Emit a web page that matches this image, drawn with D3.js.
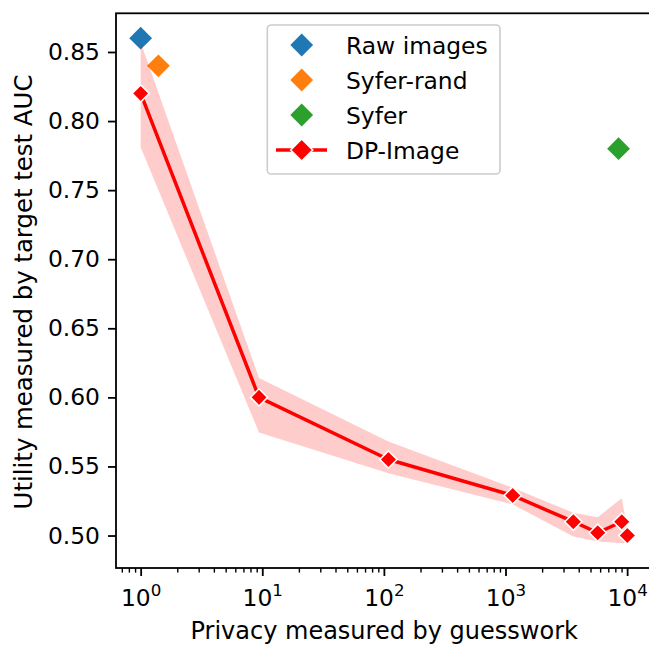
<!DOCTYPE html>
<html>
<head>
<meta charset="utf-8">
<script src="https://cdn.jsdelivr.net/npm/d3@7"></script>
<style>
  html, body { margin: 0; padding: 0; background: #ffffff; }
  svg { display: block; font-family: "DejaVu Sans", sans-serif; }
</style>
</head>
<body>
<svg id="chart" width="649" height="645"></svg>
<script>
// Single-point methods
const rawX = [1.0];
const rawY = [0.86];
const syferRandX = [1.4];
const syferRandY = [0.84];
const syferX = [8500];
const syferY = [0.78];

// DP-Image sweep: mean and confidence band
const dpX = [1, 9.4, 109, 1146, 3610, 5730, 9030, 10040];
const dpY = [0.82, 0.60, 0.555, 0.529, 0.510, 0.502, 0.510, 0.500];
const dpLow = [0.781, 0.5745, 0.545, 0.5225, 0.4993, 0.4957, 0.4945, 0.495];
const dpHigh = [0.857, 0.614, 0.568, 0.5345, 0.5165, 0.5133, 0.527, 0.505];

const yTicks = [0.50, 0.55, 0.60, 0.65, 0.70, 0.75, 0.80, 0.85];
const xTicks = [1, 10, 100, 1000, 10000];
const xTickExp = ["0", "1", "2", "3", "4"];

const legendNames = ["Raw images", "Syfer-rand", "Syfer", "DP-Image"];
const colors = { raw: "#1f77b4", rand: "#ff7f0e", syfer: "#2ca02c", dp: "#ff0000" };

const plotLeft = 116, plotRight = 650, plotTop = 13.3, plotBottom = 568;
const tickFont = 23.4, labelFont = 24;
const svg = d3.select("#chart");

const x = d3.scaleLog().domain([0.627, 15420]).range([plotLeft, plotRight]);
const y = d3.scaleLinear().domain([0.4765, 0.878]).range([plotBottom, plotTop]);

const diamond = r => `M0,${-r}L${r},0L0,${r}L${-r},0Z`;

// Scatter points for single methods
const scatter = [
  { xs: rawX, ys: rawY, c: colors.raw },
  { xs: syferRandX, ys: syferRandY, c: colors.rand },
  { xs: syferX, ys: syferY, c: colors.syfer }
];
scatter.forEach(s => {
  svg.append("g").selectAll("path").data(s.xs).join("path")
    .attr("d", diamond(11.4))
    .attr("transform", (d, i) => `translate(${x(d)},${y(s.ys[i])})`)
    .attr("fill", s.c);
});

// Confidence band
const band = d3.area()
  .x((d, i) => x(dpX[i]))
  .y0((d, i) => y(dpLow[i]))
  .y1((d, i) => y(dpHigh[i]));
svg.append("path").datum(dpX)
  .attr("d", band)
  .attr("fill", "#ff0000")
  .attr("fill-opacity", 0.2);

const line = d3.line()
  .x((d, i) => x(dpX[i]))
  .y((d, i) => y(dpY[i]));
svg.append("path").datum(dpX)
  .attr("d", line)
  .attr("fill", "none")
  .attr("stroke", colors.dp)
  .attr("stroke-width", 3.5)
  .attr("stroke-linejoin", "round");

svg.append("g").selectAll("path").data(dpX).join("path")
  .attr("d", diamond(8.6))
  .attr("transform", (d, i) => `translate(${x(d)},${y(dpY[i])})`)
  .attr("fill", colors.dp)
  .attr("stroke", "#ffffff")
  .attr("stroke-width", 1.6);

// Axes
const yAxis = d3.axisLeft(y).tickValues(yTicks).tickFormat(d3.format(".2f"))
  .tickSize(8).tickPadding(8);
const gy = svg.append("g").attr("transform", `translate(${plotLeft},0)`).call(yAxis);
gy.select(".domain").remove();
gy.selectAll(".tick line").attr("stroke", "#000").attr("stroke-width", 1.8);
gy.selectAll(".tick text").attr("font-size", tickFont).attr("fill", "#000")
  .attr("font-family", "DejaVu Sans");

// minor ticks on log axis
const minor = [];
for (let e = -1; e <= 4; e++) {
  for (let m = 2; m <= 9; m++) {
    const v = m * Math.pow(10, e);
    if (v >= x.domain()[0] && v <= x.domain()[1]) minor.push(v);
  }
}
const gxm = svg.append("g").attr("transform", `translate(0,${plotBottom})`)
  .call(d3.axisBottom(x).tickValues(minor).tickSize(4.6).tickFormat(""));
gxm.select(".domain").remove();
gxm.selectAll(".tick line").attr("stroke", "#000").attr("stroke-width", 1.4);

const gx = svg.append("g").attr("transform", `translate(0,${plotBottom})`)
  .call(d3.axisBottom(x).tickValues(xTicks).tickSize(8).tickFormat(""));
gx.select(".domain").remove();
gx.selectAll(".tick line").attr("stroke", "#000").attr("stroke-width", 1.8);
gx.selectAll(".tick").each(function(d, i) {
  const t = d3.select(this).append("text")
    .attr("y", 37.5)
    .attr("text-anchor", "middle")
    .attr("font-size", tickFont)
    .attr("fill", "#000")
    .attr("font-family", "DejaVu Sans");
  t.append("tspan").text("10");
  t.append("tspan").attr("font-size", 16.7).attr("dy", -9.8).text(xTickExp[i]);
});

// Frame
svg.append("rect")
  .attr("x", plotLeft).attr("y", plotTop)
  .attr("width", plotRight - plotLeft).attr("height", plotBottom - plotTop)
  .attr("fill", "none").attr("stroke", "#000").attr("stroke-width", 1.8);

// Axis titles
svg.append("text")
  .attr("x", 384.2).attr("y", 639)
  .attr("text-anchor", "middle").attr("font-size", labelFont)
  .text("Privacy measured by guesswork");
svg.append("text")
  .attr("transform", `translate(31.5,292) rotate(-90)`)
  .attr("text-anchor", "middle").attr("font-size", 24.4)
  .text("Utility measured by target test AUC");

// Legend
const lg = svg.append("g");
lg.append("rect")
  .attr("x", 267.3).attr("y", 25).attr("width", 232.7).attr("height", 149)
  .attr("rx", 4).attr("fill", "#ffffff").attr("fill-opacity", 0.8)
  .attr("stroke", "#cccccc").attr("stroke-width", 1.6);
const legendColors = [colors.raw, colors.rand, colors.syfer, colors.dp];
legendNames.forEach((name, i) => {
  const cy = 45 + i * 35;
  if (i === 3) {
    lg.append("line").attr("x1", 276).attr("x2", 327).attr("y1", cy).attr("y2", cy)
      .attr("stroke", colors.dp).attr("stroke-width", 3.5);
    lg.append("path").attr("d", diamond(11))
      .attr("transform", `translate(301.7,${cy})`)
      .attr("fill", colors.dp).attr("stroke", "#ffffff").attr("stroke-width", 1.6);
  } else {
    lg.append("path").attr("d", diamond(11.4))
      .attr("transform", `translate(301.7,${cy})`)
      .attr("fill", legendColors[i]);
  }
  lg.append("text").attr("x", 346).attr("y", cy + 8.5)
    .attr("font-size", tickFont).text(name);
});
</script>
</body>
</html>
